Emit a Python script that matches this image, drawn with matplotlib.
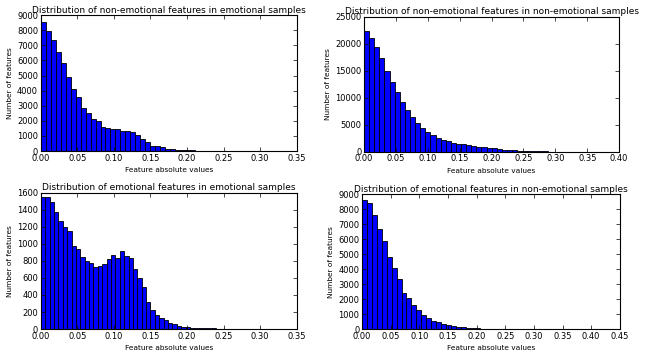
import numpy as np
import matplotlib
matplotlib.use('Agg')
import matplotlib.pyplot as plt
from matplotlib.ticker import FormatStrFormatter

# Histogram counts (50 bins per panel)
titles = [
    "Distribution of non-emotional features in emotional samples",
    "Distribution of non-emotional features in non-emotional samples",
    "Distribution of emotional features in emotional samples",
    "Distribution of emotional features in non-emotional samples",
]

# upper end of the binned range for each panel
hist_max = [0.34, 0.40, 0.30, 0.43]

counts_nonemo_in_emo = [
    8560, 7970, 7330, 6560, 5810, 4920, 4130, 3560, 2850, 2490,
    2120, 1990, 1570, 1500, 1490, 1470, 1350, 1350, 1240, 1040,
    820, 580, 350, 330, 240, 160, 120, 95, 75, 55,
    40, 30, 22, 16, 12, 9, 7, 5, 4, 3,
    2, 2, 1, 1, 1, 0, 1, 0, 0, 1,
]

counts_nonemo_in_nonemo = [
    22300, 21000, 19350, 17250, 14950, 12850, 11000, 9150, 7700, 6400,
    5250, 4350, 3600, 3050, 2550, 2250, 1980, 1700, 1480, 1360,
    1200, 1080, 920, 880, 760, 600, 450, 400, 300, 230,
    180, 140, 100, 75, 55, 40, 30, 20, 15, 10,
    8, 6, 4, 3, 2, 2, 1, 1, 0, 1,
]

counts_emo_in_emo = [
    1546, 1553, 1495, 1377, 1272, 1195, 1155, 976, 940, 843,
    800, 773, 733, 741, 765, 820, 867, 832, 917, 862,
    839, 703, 604, 492, 316, 226, 167, 129, 105, 70,
    55, 42, 30, 22, 18, 14, 10, 12, 8, 18,
    6, 5, 4, 3, 6, 2, 2, 1, 4, 1,
]

counts_emo_in_nonemo = [
    8620, 8400, 7640, 6670, 5870, 4800, 4090, 3350, 2440, 2070,
    1620, 1290, 970, 710, 570, 470, 350, 290, 220, 170,
    130, 100, 75, 55, 40, 30, 22, 16, 12, 9,
    7, 5, 4, 3, 2, 2, 1, 1, 1, 0,
    1, 0, 0, 0, 1, 0, 0, 0, 0, 1,
]

all_counts = [counts_nonemo_in_emo, counts_nonemo_in_nonemo,
              counts_emo_in_emo, counts_emo_in_nonemo]

x_limits = [0.35, 0.40, 0.35, 0.45]
y_limits = [9000, 25000, 1600, 9000]
y_steps = [1000, 5000, 200, 1000]

# axes rectangles in figure fraction (left, bottom, width, height)
rects = [
    (0.063, 0.571, 0.394, 0.386),
    (0.561, 0.569, 0.393, 0.384),
    (0.063, 0.065, 0.394, 0.388),
    (0.558, 0.065, 0.397, 0.383),
]

fig = plt.figure(figsize=(6.49, 3.52), dpi=100)

for i in range(4):
    ax = fig.add_axes(rects[i])
    counts = np.array(all_counts[i])
    edges = np.linspace(0, hist_max[i], len(counts) + 1)
    ax.bar(edges[:-1], counts, width=np.diff(edges), align='edge',
           color='#0000ff', edgecolor='black', linewidth=0.6)
    ax.set_xlim(0, x_limits[i])
    ax.set_ylim(0, y_limits[i])
    ax.set_xticks(np.arange(0, x_limits[i] + 1e-9, 0.05))
    ax.set_yticks(np.arange(0, y_limits[i] + 1, y_steps[i]))
    ax.xaxis.set_major_formatter(FormatStrFormatter('%.2f'))
    ax.tick_params(direction='in', top=True, right=True, labelsize=6,
                   length=3, width=0.5, pad=2)
    for s in ax.spines.values():
        s.set_linewidth(0.8)
    ax.set_title(titles[i], fontsize=6.5, pad=1.5)
    ax.set_xlabel("Feature absolute values", fontsize=5.3, labelpad=3)
    ax.set_ylabel("Number of features", fontsize=5.3, labelpad=3)

fig.savefig("out.png", dpi=100)
